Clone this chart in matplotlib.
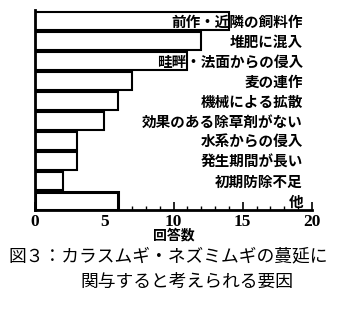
"""Horizontal bar chart: factors in the spread of wild oat / ryegrass (survey answers)."""

import matplotlib

matplotlib.use("Agg")
import matplotlib.pyplot as plt  # noqa: E402
import matplotlib.ticker as ticker  # noqa: E402

plt.rcParams["font.family"] = ["Noto Sans CJK JP", "DejaVu Sans"]

FACTORS = [
    "前作・近隣の飼料作",
    "堆肥に混入",
    "畦畔・法面からの侵入",
    "麦の連作",
    "機械による拡散",
    "効果のある除草剤がない",
    "水系からの侵入",
    "発生期間が長い",
    "初期防除不足",
    "他",
]
COUNTS = [14, 12, 11, 7, 6, 5, 3, 3, 2, 6]
X_TICKS = [0, 5, 10, 15, 20]

CAPTION_1 = "図３：カラスムギ・ネズミムギの蔓延に"
CAPTION_2 = "関与すると考えられる要因"

fig = plt.figure(figsize=(3.37, 3.09), dpi=100)
ax = fig.add_axes([35 / 337, 1 - 210 / 309, 277 / 337, 200 / 309])

y = range(len(FACTORS))
widths = [1.5] * (len(FACTORS) - 1) + [2.2]
ax.barh(list(y), COUNTS, height=0.9, color="white", edgecolor="black",
        linewidth=widths, zorder=2)

for i, label in enumerate(FACTORS):
    ax.text(19.35, i + 0.05, label, ha="right", va="center", fontsize=10.5,
            fontweight="bold", color="black", zorder=3)

ax.set_xlim(0, 20)
ax.set_ylim(9.45, -0.55)
ax.set_yticks([])
ax.set_xticks(X_TICKS)
ax.set_xticklabels([str(t) for t in X_TICKS], family="Liberation Serif",
                   fontsize=12.5, fontweight="bold")
ax.xaxis.set_minor_locator(ticker.MultipleLocator(1))
ax.tick_params(axis="x", which="major", direction="in", length=6, width=1.2,
               pad=3, colors="black")
ax.tick_params(axis="x", which="minor", direction="in", length=3, width=1)

ax.spines["top"].set_visible(False)
ax.spines["right"].set_visible(False)
ax.spines["left"].set_linewidth(2)
ax.spines["bottom"].set_linewidth(2)

ax.set_xlabel("回答数", fontsize=10, fontweight="bold", labelpad=-1)

fig.text(8 / 337, 1 - 256 / 309, CAPTION_1, ha="left", va="center",
         fontsize=12.8)
fig.text(80 / 337, 1 - 282 / 309, CAPTION_2, ha="left", va="center",
         fontsize=12.8)

fig.savefig("out.png", dpi=100, facecolor="white")
plt.close(fig)
